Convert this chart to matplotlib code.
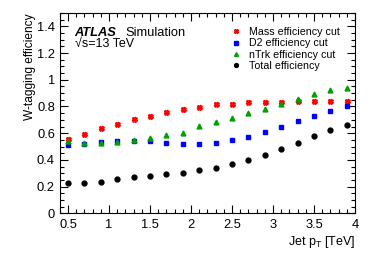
#!/usr/bin python3

# import required libraries
import matplotlib.pyplot as plt
from matplotlib.ticker import MultipleLocator

plt.rcParams['font.family'] = ['Liberation Sans', 'DejaVu Sans']

# jet pT bins [TeV]
pt = [0.5, 0.7, 0.9, 1.1, 1.3, 1.5, 1.7, 1.9, 2.1, 2.3, 2.5, 2.7, 2.9, 3.1, 3.3, 3.5, 3.7, 3.9]

mass_eff = [0.557, 0.597, 0.636, 0.671, 0.706, 0.732, 0.757, 0.781, 0.797, 0.815, 0.822,
            0.832, 0.837, 0.837, 0.840, 0.842, 0.842, 0.842]
d2_eff = [0.515, 0.520, 0.535, 0.545, 0.545, 0.540, 0.530, 0.522, 0.520, 0.530, 0.547,
          0.575, 0.610, 0.650, 0.690, 0.732, 0.767, 0.800]
ntrk_eff = [0.545, 0.525, 0.527, 0.535, 0.550, 0.565, 0.584, 0.605, 0.655, 0.685, 0.712,
            0.750, 0.782, 0.817, 0.857, 0.890, 0.920, 0.942]
total_eff = [0.225, 0.227, 0.237, 0.255, 0.270, 0.282, 0.292, 0.302, 0.322, 0.342, 0.367,
             0.400, 0.440, 0.480, 0.527, 0.580, 0.622, 0.660]


def main():
    fig = plt.figure(figsize=(3.74, 2.54), dpi=100)
    ax = fig.add_axes([0.16, 0.16, 0.789, 0.789])

    ax.plot(pt, mass_eff, ls='none', marker='X', ms=3.6, color='#ff0000',
            mec='#ff0000', label='Mass efficiency cut')
    ax.plot(pt, d2_eff, ls='none', marker='s', ms=3.3, color='#0000ff',
            label='D2 efficiency cut')
    ax.plot(pt, ntrk_eff, ls='none', marker='^', ms=3.5, color='#00a000',
            label='nTrk efficiency cut')
    ax.plot(pt, total_eff, ls='none', marker='o', ms=3.5, color='black',
            label='Total efficiency')

    ax.set_xlim(0.4, 4.0)
    ax.set_ylim(0, 1.5)
    ax.xaxis.set_minor_locator(MultipleLocator(0.1))
    ax.yaxis.set_minor_locator(MultipleLocator(0.05))
    ax.set_xticks([0.5, 1, 1.5, 2, 2.5, 3, 3.5, 4])
    ax.set_xticklabels(['0.5', '1', '1.5', '2', '2.5', '3', '3.5', '4'])
    ax.set_yticks([0, 0.2, 0.4, 0.6, 0.8, 1, 1.2, 1.4])
    ax.set_yticklabels(['0', '0.2', '0.4', '0.6', '0.8', '1', '1.2', '1.4'])
    ax.tick_params(which='both', direction='in', top=True, right=True, labelsize=9.3)
    ax.tick_params(which='major', length=6, width=0.8)
    ax.tick_params(which='minor', length=3, width=0.8)
    ax.tick_params(axis='x', pad=4)

    ax.set_ylabel('W-tagging efficiency', fontsize=8.6, loc='top', labelpad=1)
    ax.set_xlabel('Jet p$_{\\mathregular{T}}$ [TeV]', fontsize=9, loc='right', labelpad=2)

    ax.text(0.05, 0.885, 'ATLAS', transform=ax.transAxes, fontsize=9.3,
            fontweight='bold', fontstyle='italic')
    ax.text(0.222, 0.885, 'Simulation', transform=ax.transAxes, fontsize=9.3)
    ax.text(0.05, 0.832, '\u221as=13 TeV', transform=ax.transAxes, fontsize=9)

    ax.legend(loc='upper left', bbox_to_anchor=(0.581, 0.93), frameon=False,
              fontsize=7.7, handlelength=0.9, handletextpad=0.72, labelspacing=0.12,
              borderaxespad=0, borderpad=0, markerscale=0.8)

    fig.savefig('out.png', dpi=100)


if __name__ == '__main__':
    main()
